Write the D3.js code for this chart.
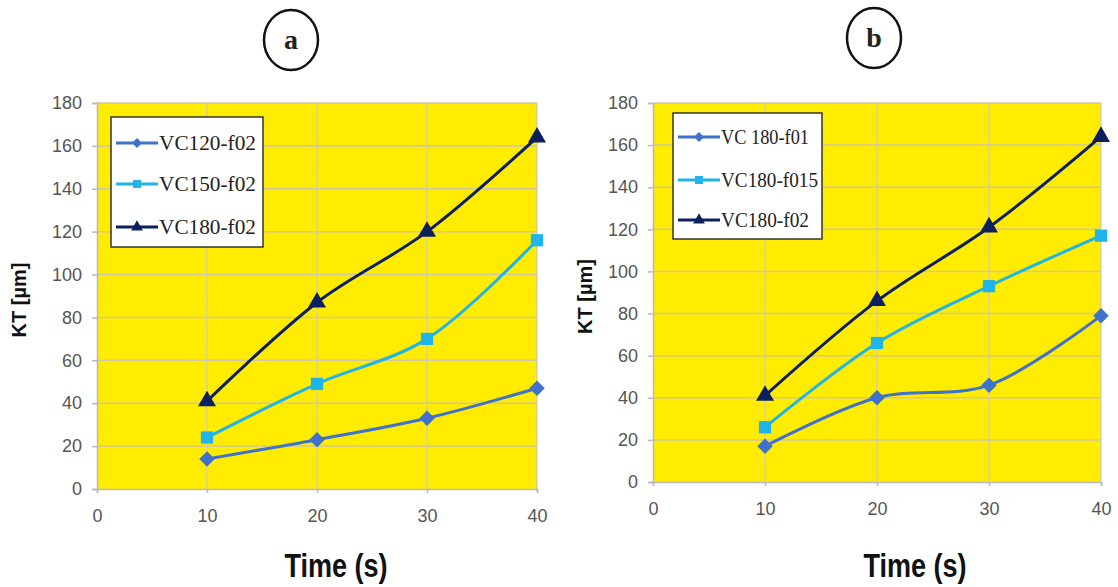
<!DOCTYPE html>
<html><head><meta charset="utf-8">
<script src="https://cdn.jsdelivr.net/npm/d3@7"></script>
<style>body{margin:0;background:#fff}</style>
</head><body>
<svg id="c" width="1118" height="587"></svg>
<script>
const times = [10, 20, 30, 40];
const xTicks = [0, 10, 20, 30, 40];
const yTicks = [0, 20, 40, 60, 80, 100, 120, 140, 160, 180];

const namesA = ["VC120-f02", "VC150-f02", "VC180-f02"];
const a_vc120_f02 = [14, 23, 33, 47];
const a_vc150_f02 = [24, 49, 70, 116];
const a_vc180_f02 = [41, 87, 120, 164];

const namesB = ["VC 180-f01", "VC180-f015", "VC180-f02"];
const b_vc180_f01 = [17, 40, 46, 79];
const b_vc180_f015 = [26, 66, 93, 117];
const b_vc180_f02 = [41, 86, 121, 164];

const colors = ["#3f72cc", "#1fb4ea", "#0c1f5e"];

const svg = d3.select("#c");

function marker(sel, k, big) {
  if (k === 0) {
    sel.attr("d", d3.symbol().type(d3.symbolSquare).size(big ? 120 : 50)).attr("data-rot", 45);
  } else if (k === 1) {
    sel.attr("d", d3.symbol().type(d3.symbolSquare).size(big ? 150 : 64));
  } else {
    sel.attr("d", d3.symbol().type(d3.symbolTriangle).size(big ? 140 : 60));
  }
}

function panel(cfg) {
  const x = d3.scaleLinear().domain([0, 40]).range([cfg.left, cfg.right]);
  const y = d3.scaleLinear().domain([0, 180]).range([cfg.bottom, cfg.top]);
  const g = svg.append("g");
  g.append("rect").attr("x", cfg.left).attr("y", cfg.top)
    .attr("width", cfg.right - cfg.left).attr("height", cfg.bottom - cfg.top)
    .attr("fill", "#ffec00");
  g.selectAll(".hg").data(yTicks.slice(1)).join("line")
    .attr("x1", cfg.left).attr("x2", cfg.right)
    .attr("y1", d => y(d)).attr("y2", d => y(d))
    .attr("stroke", "#cfc6a8").attr("stroke-width", 1.5);
  g.selectAll(".vg").data(xTicks.slice(1)).join("line")
    .attr("x1", d => x(d)).attr("x2", d => x(d))
    .attr("y1", cfg.top).attr("y2", cfg.bottom)
    .attr("stroke", "#cdc8d6").attr("stroke-width", 1.2);
  const ya = g.append("g").attr("transform", `translate(${cfg.left},0)`)
    .call(d3.axisLeft(y).tickValues(yTicks).tickSize(5).tickPadding(10));
  const xa = g.append("g").attr("transform", `translate(0,${cfg.bottom})`)
    .call(d3.axisBottom(x).tickValues(xTicks).tickSize(4).tickPadding(16));
  [ya, xa].forEach(a => {
    a.select(".domain").attr("stroke", "#b8b8c0").attr("stroke-width", 1.5);
    a.selectAll(".tick line").attr("stroke", "#b8b8c0").attr("stroke-width", 1.5);
    a.selectAll("text").attr("fill", "#555").attr("font-size", 18)
      .attr("font-family", "'Liberation Sans', Arial, sans-serif");
  });
  const line = d3.line().x((d, i) => x(times[i])).y(d => y(d)).curve(d3.curveCatmullRom.alpha(0.5));
  cfg.series.forEach((s, k) => {
    g.append("path").attr("d", line(s)).attr("fill", "none")
      .attr("stroke", colors[k]).attr("stroke-width", 3);
  });
  cfg.series.forEach((s, k) => {
    g.selectAll(".m" + k).data(s).join("path")
      .attr("transform", (d, i) => `translate(${x(times[i])},${y(d)})` + (k === 0 ? " rotate(45)" : ""))
      .call(sel => marker(sel, k, true))
      .attr("fill", colors[k]);
  });
  const lg = g.append("g");
  lg.append("rect").attr("x", cfg.leg.x).attr("y", cfg.leg.y)
    .attr("width", cfg.leg.w).attr("height", cfg.leg.h)
    .attr("fill", "#fff").attr("stroke", "#333").attr("stroke-width", 1.5);
  cfg.names.forEach((n, k) => {
    const ly = cfg.leg.y + cfg.leg.rows[k];
    const lx = cfg.leg.x + 5;
    lg.append("line").attr("x1", lx).attr("x2", lx + 42).attr("y1", ly).attr("y2", ly)
      .attr("stroke", colors[k]).attr("stroke-width", 3);
    lg.append("path").attr("transform", `translate(${lx + 21},${ly})` + (k === 0 ? " rotate(45)" : ""))
      .call(sel => marker(sel, k, false)).attr("fill", colors[k]);
    lg.append("text").attr("x", lx + 43).attr("y", ly + 7).text(n)
      .attr("font-family", "'Liberation Serif', 'Times New Roman', serif")
      .attr("font-size", 20).attr("fill", "#222")
      .attr("textLength", cfg.leg.tl[k]).attr("lengthAdjust", "spacingAndGlyphs");
  });
  g.append("text").attr("transform", `translate(${cfg.ytx},${(cfg.top + cfg.bottom) / 2 + 4}) rotate(-90)`)
    .attr("text-anchor", "middle").attr("font-family", "'Liberation Sans', Arial, sans-serif")
    .attr("font-weight", "bold").attr("font-size", 20).attr("fill", "#111").text("KT [µm]");
  g.append("text").attr("transform", `translate(${cfg.xtx},577) scale(0.82,1)`)
    .attr("text-anchor", "middle").attr("font-family", "'Liberation Sans', Arial, sans-serif")
    .attr("font-weight", "bold").attr("font-size", 33).attr("fill", "#111").text("Time (s)");
  g.append("ellipse").attr("cx", cfg.lab.x).attr("cy", cfg.lab.y).attr("rx", 27).attr("ry", 30)
    .attr("fill", "#fff").attr("stroke", "#111").attr("stroke-width", 2.5);
  g.append("text").attr("x", cfg.lab.x).attr("y", cfg.lab.y + 9).attr("text-anchor", "middle")
    .attr("font-family", "'Liberation Serif', serif").attr("font-weight", "bold")
    .attr("font-size", 28).attr("fill", "#222").text(cfg.lab.t);
}

panel({
  left: 97, right: 537, top: 103, bottom: 489,
  series: [a_vc120_f02, a_vc150_f02, a_vc180_f02], names: namesA,
  leg: { x: 111, y: 117, w: 152, h: 130, rows: [26, 67, 110], tl: [97, 97, 97] },
  ytx: 26, xtx: 336, lab: { x: 291, y: 40, t: "a" }
});
panel({
  left: 653, right: 1101, top: 103, bottom: 482,
  series: [b_vc180_f01, b_vc180_f015, b_vc180_f02], names: namesB,
  leg: { x: 673, y: 113, w: 149, h: 126, rows: [24, 67, 107], tl: [88, 97, 88] },
  ytx: 592, xtx: 915, lab: { x: 874, y: 38, t: "b" }
});
</script>
</body></html>
